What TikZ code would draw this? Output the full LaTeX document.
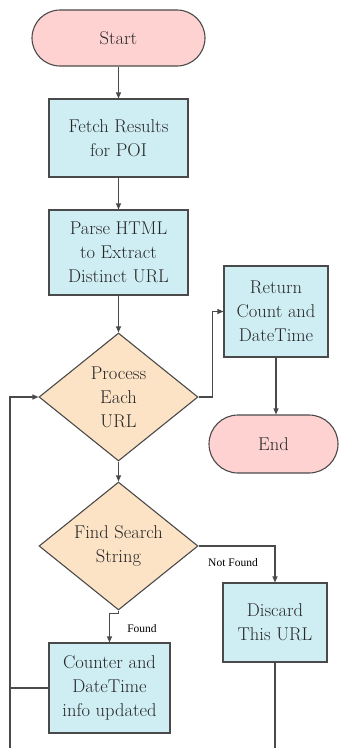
\documentclass[tikz,border=0pt]{standalone}
\usepackage{fontspec}
\newfontfamily\lblfont{Liberation Serif}
\usetikzlibrary{arrows.meta,positioning,shapes.geometric,calc}
\definecolor{termfill}{HTML}{FFD2D2}
\definecolor{boxfill}{HTML}{CFEEF4}
\definecolor{decfill}{HTML}{FCE3C6}
\definecolor{edgecol}{HTML}{4A4A4A}
\definecolor{txtcol}{HTML}{262626}
\tikzset{
  terminal/.style={
    draw=edgecol,
    fill=termfill,
    rectangle,
    line width=1.1pt,
    minimum height=56pt,
    rounded corners=28pt,
    text=txtcol,
    font=\fontsize{18.5}{24}\selectfont
  },
  activity/.style={
    draw=edgecol,
    fill=boxfill,
    rectangle,
    line width=1.1pt,
    align=center,
    inner sep=0pt,
    text=txtcol,
    font=\fontsize{18.5}{24}\selectfont
  },
  decision/.style={
    diamond,
    draw=edgecol,
    fill=decfill,
    line width=1.1pt,
    aspect=1.25,
    minimum width=159pt,
    minimum height=128pt,
    align=center,
    inner sep=0pt,
    text=txtcol,
    font=\fontsize{18.5}{24}\selectfont
  },
  lbl/.style={font=\lblfont\fontsize{11.5}{13}\selectfont, inner sep=0pt},
  flow/.style={-{Triangle[length=6pt,width=5pt]},line width=1.1pt,draw=edgecol},
  plain/.style={line width=1.1pt,draw=edgecol}
}
\begin{document}
\begin{tikzpicture}[x=1pt,y=1pt]
\useasboundingbox (0,0) rectangle (338,-748);

\node[terminal, minimum width=173pt] (start) at (118.5,-38) {Start};
\node[activity, minimum width=139pt, minimum height=78pt] (fetch) at (118.5,-138) {Fetch Results\\for POI};
\node[activity, minimum width=139pt, minimum height=85pt] (parse) at (118.5,-252.5) {Parse HTML\\to Extract\\Distinct URL};
\node[decision] (proc) at (118.5,-397) {Process\\Each\\URL};
\node[activity, minimum width=104pt, minimum height=91pt] (ret) at (276,-311.5) {Return\\Count and\\DateTime};
\node[terminal, minimum width=129pt, minimum height=58pt, rounded corners=29pt] (fin) at (273.5,-444) {End};
\node[decision] (find) at (118.5,-546) {Find Search\\String};
\node[activity, minimum width=104pt, minimum height=79pt] (disc) at (275,-622.5) {Discard\\This URL};
\node[activity, minimum width=121pt, minimum height=90pt] (upd) at (109.5,-688) {Counter and\\DateTime\\info updated};

\node[lbl] (nf) at (233,-563) {Not Found};
\node[lbl] (fd) at (142,-629) {Found};

\coordinate (loop) at (10,-688);
\coordinate (lbot) at (10,-748);
\coordinate (dbot) at (275,-748);

\draw[flow] (start.south) -- (fetch.north);
\draw[flow] (fetch.south) -- (parse.north);
\draw[flow] (parse.south) -- (proc.north);
\draw[flow] (proc.east) -- ++(14,0) |- (ret.west);
\draw[flow] (ret.south) -- (ret.south |- fin.north);
\draw[flow] (proc.south) -- (find.north);
\draw[flow] (find.east) -| (disc.north);
\draw[flow] (find.south) -- ++(0,-3) -| (upd.north);
\draw[flow] (upd.west) -- (loop) |- (proc.west);
\draw[plain] (loop) -- (lbot);
\draw[plain] (disc.south) -- (dbot);
\end{tikzpicture}
\end{document}
